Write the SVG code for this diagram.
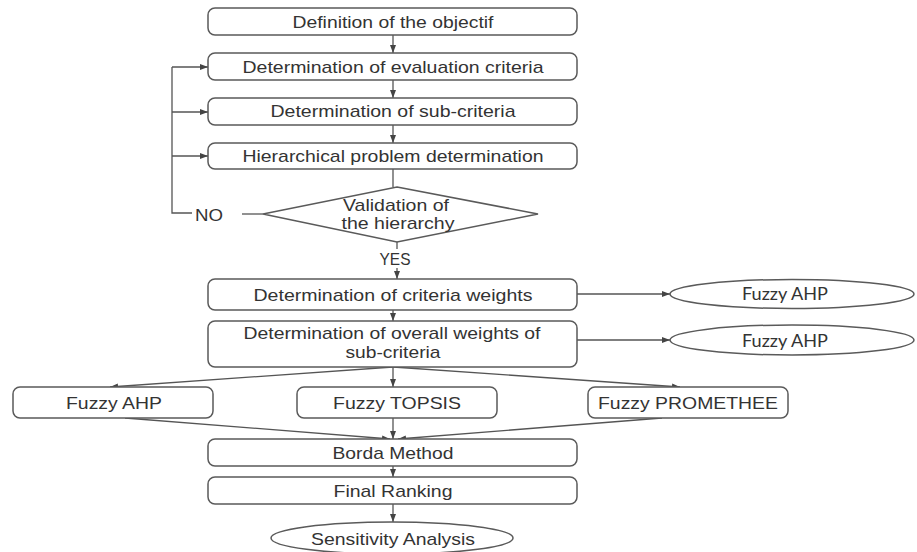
<svg xmlns="http://www.w3.org/2000/svg" width="917" height="552" viewBox="0 0 917 552">
<defs>
<marker id="ah" viewBox="0 0 8 6" refX="8" refY="3" markerWidth="8" markerHeight="6" markerUnits="userSpaceOnUse" orient="auto">
<path d="M0,0 L8,3 L0,6 z" fill="#444"/>
</marker>
</defs>
<style>
.box{fill:#fff;stroke:#5a5a5a;stroke-width:1.5}
.t{font-family:"Liberation Sans",Arial,sans-serif;font-size:17px;fill:#333;text-anchor:middle}
.e{font-family:Lato,"Open Sans",sans-serif;font-size:18px;fill:#333;text-anchor:middle}
.c{fill:none;stroke:#555;stroke-width:1.3}
.a{marker-end:url(#ah)}
</style>
<rect width="917" height="552" fill="#fff"/>
<g id="connectors">
<line class="c a" x1="393" y1="35" x2="393" y2="53"/>
<line class="c a" x1="393" y1="80" x2="393" y2="98"/>
<line class="c a" x1="393" y1="125" x2="393" y2="143"/>
<line class="c" x1="393" y1="169" x2="393" y2="187"/>
<polyline class="c" points="192,213 172,213 172,67"/>
<line class="c a" x1="172" y1="67" x2="208" y2="67"/>
<line class="c a" x1="172" y1="112" x2="208" y2="112"/>
<line class="c a" x1="172" y1="156" x2="208" y2="156"/>
<line class="c" x1="242" y1="214" x2="263" y2="214"/>
<line class="c" x1="397" y1="242" x2="397" y2="249"/>
<line class="c a" x1="397" y1="268" x2="397" y2="279"/>
<line class="c a" x1="577" y1="294" x2="670" y2="294"/>
<line class="c a" x1="393" y1="310" x2="393" y2="321"/>
<line class="c a" x1="577" y1="340" x2="670" y2="340"/>
<line class="c a" x1="393" y1="367" x2="110" y2="387"/>
<line class="c a" x1="393" y1="367" x2="393" y2="387"/>
<line class="c a" x1="393" y1="367" x2="680" y2="387"/>
<line class="c a" x1="125" y1="418" x2="390" y2="439"/>
<line class="c a" x1="393" y1="418" x2="393" y2="439"/>
<line class="c a" x1="662" y1="418" x2="398" y2="439"/>
<line class="c a" x1="393" y1="466" x2="393" y2="477"/>
<line class="c a" x1="393" y1="504" x2="393" y2="522"/>
</g>
<g id="n1"><rect class="box" x="208" y="8" width="369" height="27" rx="7"/><text class="t" x="393" y="27.5" textLength="201" lengthAdjust="spacingAndGlyphs">Definition of the objectif</text></g>
<g id="n2"><rect class="box" x="208" y="53" width="369" height="27" rx="7"/><text class="t" x="393" y="72.5" textLength="301" lengthAdjust="spacingAndGlyphs">Determination of evaluation criteria</text></g>
<g id="n3"><rect class="box" x="208" y="98" width="369" height="27" rx="7"/><text class="t" x="393" y="117" textLength="245" lengthAdjust="spacingAndGlyphs">Determination of sub-criteria</text></g>
<g id="n4"><rect class="box" x="208" y="143" width="369" height="26" rx="7"/><text class="t" x="393" y="161.5" textLength="301" lengthAdjust="spacingAndGlyphs">Hierarchical problem determination</text></g>
<g id="n5"><polygon class="box" points="397,187 538,214 397,242 263,214"/><text class="t" x="396" y="210.5" textLength="106" lengthAdjust="spacingAndGlyphs">Validation of</text><text class="t" x="398" y="229" textLength="113" lengthAdjust="spacingAndGlyphs">the hierarchy</text></g>
<g id="lbl-no"><text class="t" x="209" y="220.5" textLength="28" lengthAdjust="spacingAndGlyphs">NO</text></g>
<g id="lbl-yes"><text class="t" x="395" y="265" textLength="31" lengthAdjust="spacingAndGlyphs">YES</text></g>
<g id="n6"><rect class="box" x="208" y="279" width="369" height="31" rx="7"/><text class="t" x="393" y="300.5" textLength="279" lengthAdjust="spacingAndGlyphs">Determination of criteria weights</text></g>
<g id="n7"><rect class="box" x="208" y="321" width="369" height="46" rx="7"/><text class="t" x="392" y="338.5" textLength="297" lengthAdjust="spacingAndGlyphs">Determination of overall weights of</text><text class="t" x="393" y="357.5" textLength="95" lengthAdjust="spacingAndGlyphs">sub-criteria</text></g>
<g id="e1"><ellipse class="box" cx="792" cy="294" rx="122" ry="14.5"/><text class="e" x="785" y="300" textLength="86" lengthAdjust="spacingAndGlyphs">Fuzzy AHP</text></g>
<g id="e2"><ellipse class="box" cx="792" cy="340" rx="122" ry="15"/><text class="e" x="785" y="346.5" textLength="86" lengthAdjust="spacingAndGlyphs">Fuzzy AHP</text></g>
<g id="m1"><rect class="box" x="13" y="387" width="200" height="31" rx="7"/><text class="t" x="114" y="408.5" textLength="96" lengthAdjust="spacingAndGlyphs">Fuzzy AHP</text></g>
<g id="m2"><rect class="box" x="297" y="387" width="200" height="31" rx="7"/><text class="t" x="397" y="408.5" textLength="128" lengthAdjust="spacingAndGlyphs">Fuzzy TOPSIS</text></g>
<g id="m3"><rect class="box" x="588" y="387" width="200" height="31" rx="7"/><text class="t" x="688" y="408.5" textLength="180" lengthAdjust="spacingAndGlyphs">Fuzzy PROMETHEE</text></g>
<g id="n8"><rect class="box" x="208" y="439" width="369" height="27" rx="7"/><text class="t" x="393" y="458.5" textLength="121" lengthAdjust="spacingAndGlyphs">Borda Method</text></g>
<g id="n9"><rect class="box" x="208" y="477" width="369" height="27" rx="7"/><text class="t" x="393" y="497" textLength="119" lengthAdjust="spacingAndGlyphs">Final Ranking</text></g>
<g id="n10"><ellipse class="box" cx="392" cy="538" rx="121" ry="16"/><text class="t" x="393" y="544.5" textLength="164" lengthAdjust="spacingAndGlyphs">Sensitivity Analysis</text></g>
</svg>
